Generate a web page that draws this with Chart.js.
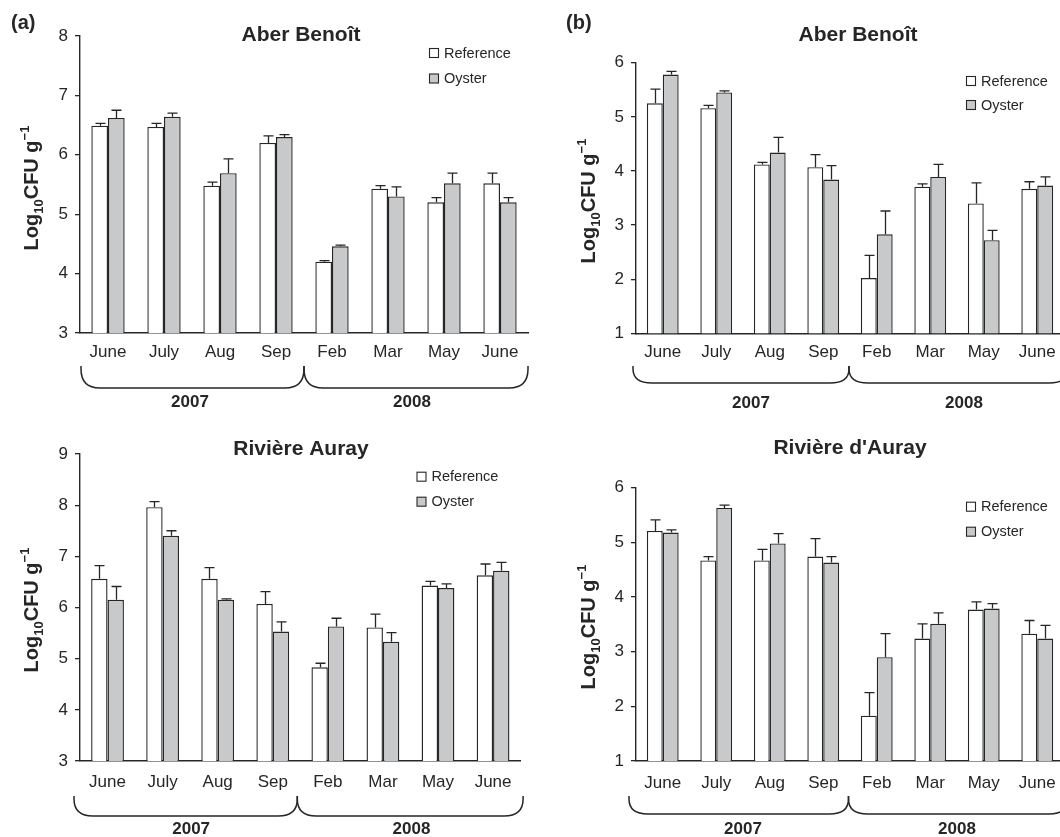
<!DOCTYPE html>
<html><head><meta charset="utf-8">
<script src="https://cdn.jsdelivr.net/npm/chart.js@4.4.0/dist/chart.umd.min.js"></script>
<style>
html,body{margin:0;padding:0;background:#fff;overflow:hidden;}
#wrap{position:relative;width:1060px;height:837px;overflow:hidden;background:#fff;}
#wrap canvas{position:absolute;left:0;top:0;}
</style></head><body>
<div id="wrap">
<canvas id="c1" width="1080" height="837"></canvas>
<canvas id="c2" width="1080" height="837"></canvas>
<canvas id="c3" width="1080" height="837"></canvas>
<canvas id="c4" width="1080" height="837"></canvas>
</div>
<script>
// ---------- data ----------
const months = ['June', 'July', 'Aug', 'Sep', 'Feb', 'Mar', 'May', 'June'];
const years = ['2007', '2008'];
const seriesNames = ['Reference', 'Oyster'];

// (a) Aber Benoît
const aAberRef    = [6.49, 6.47, 5.48, 6.20, 4.20, 5.43, 5.20, 5.52];
const aAberRefErr = [0.04, 0.06, 0.06, 0.12, 0.02, 0.05, 0.08, 0.17];
const aAberOys    = [6.62, 6.64, 5.69, 6.30, 4.46, 5.30, 5.52, 5.20];
const aAberOysErr = [0.13, 0.06, 0.24, 0.04, 0.02, 0.16, 0.17, 0.08];

// (b) Aber Benoît
const bAberRef    = [5.25, 5.16, 4.12, 4.07, 2.02, 3.71, 3.40, 3.67];
const bAberRefErr = [0.26, 0.05, 0.04, 0.23, 0.42, 0.05, 0.38, 0.13];
const bAberOys    = [5.78, 5.45, 4.34, 3.84, 2.83, 3.89, 2.72, 3.73];
const bAberOysErr = [0.06, 0.03, 0.28, 0.26, 0.43, 0.23, 0.18, 0.16];

// (a) Rivière Auray
const aAurRef    = [6.56, 7.96, 6.56, 6.07, 4.83, 5.61, 6.43, 6.63];
const aAurRefErr = [0.26, 0.11, 0.22, 0.24, 0.08, 0.26, 0.08, 0.22];
const aAurOys    = [6.15, 7.40, 6.15, 5.53, 5.63, 5.33, 6.38, 6.72];
const aAurOysErr = [0.26, 0.10, 0.02, 0.19, 0.16, 0.18, 0.08, 0.16];

// (b) Rivière d'Auray
const bAurRef    = [5.21, 4.67, 4.67, 4.74, 1.83, 3.24, 3.77, 3.33];
const bAurRefErr = [0.20, 0.07, 0.20, 0.33, 0.42, 0.27, 0.14, 0.24];
const bAurOys    = [5.18, 5.63, 4.98, 4.63, 2.90, 3.51, 3.79, 3.24];
const bAurOysErr = [0.05, 0.05, 0.18, 0.11, 0.43, 0.20, 0.09, 0.24];

// ---------- layout (positions / styles) ----------
const FONT = '"Liberation Sans", Arial, Helvetica, sans-serif';
const INK = '#262626';
const GREY = '#c8c9cb';
const CW = 1080, CH = 837, YW = 50, XH = 30;

const panels = [
  { id: 'c1', ref: aAberRef, refErr: aAberRefErr, oys: aAberOys, oysErr: aAberOysErr,
    yMin: 3, yMax: 8, area: { l: 80, r: 528, t: 36, b: 333 }, tickPad: 9,
    title: 'Aber Beno\u00eet', titleX: 301, titleY: 35,
    legendX: 429, legendY: [53, 78.5],
    yTitleX: 31, yTitleY: 188, panelLabel: '(a)', panelLabelX: 11,
    brace: { top: 366, bot: 388, startDx: 1, endDx: 0, cuspDx: 0 }, yearY: 402, yearDx: [-2, -4] },
  { id: 'c2', ref: bAberRef, refErr: bAberRefErr, oys: bAberOys, oysErr: bAberOysErr,
    yMin: 1, yMax: 6, area: { l: 636, r: 1064, t: 62.7, b: 333.3 }, tickPad: 9,
    title: 'Aber Beno\u00eet', titleX: 858, titleY: 35,
    legendX: 966, legendY: [81, 105],
    yTitleX: 588, yTitleY: 201, panelLabel: '(b)', panelLabelX: 566,
    brace: { top: 366, bot: 383, startDx: -3, endDx: 4, cuspDx: -1 }, yearY: 403, yearDx: [8, 7] },
  { id: 'c3', ref: aAurRef, refErr: aAurRefErr, oys: aAurOys, oysErr: aAurOysErr,
    yMin: 3, yMax: 9, area: { l: 80, r: 520.6, t: 454, b: 761 }, tickPad: 11,
    title: 'Rivi\u00e8re Auray', titleX: 301, titleY: 449,
    legendX: 416.5, legendY: [476.7, 501.7],
    yTitleX: 31, yTitleY: 610, panelLabel: null,
    brace: { top: 796, bot: 816, startDx: -6, endDx: 2.5, cuspDx: -3 }, yearY: 829, yearDx: [1, 1] },
  { id: 'c4', ref: bAurRef, refErr: bAurRefErr, oys: bAurOys, oysErr: bAurOysErr,
    yMin: 1, yMax: 6, area: { l: 636, r: 1064, t: 487.7, b: 761 }, tickPad: 12,
    title: 'Rivi\u00e8re d\'Auray', titleX: 850, titleY: 448,
    legendX: 966, legendY: [506.7, 531.7],
    yTitleX: 588, yTitleY: 627, panelLabel: null,
    brace: { top: 796, bot: 814, startDx: -7, endDx: 4, cuspDx: -1.5 }, yearY: 829, yearDx: [0, 0] }
];

function drawYTitle(ctx, cx, cy) {
  ctx.save();
  ctx.translate(cx, cy);
  ctx.rotate(-Math.PI / 2);
  const parts = [
    { t: 'Log', f: 20, dy: 0 },
    { t: '10', f: 13, dy: 5 },
    { t: 'CFU g', f: 20, dy: 0 },
    { t: '\u22121', f: 13, dy: -9 }
  ];
  let total = 0;
  parts.forEach(p => { ctx.font = 'bold ' + p.f + 'px ' + FONT; p.w = ctx.measureText(p.t).width; total += p.w; });
  let x = -total / 2;
  ctx.fillStyle = INK;
  ctx.textBaseline = 'alphabetic';
  ctx.textAlign = 'left';
  parts.forEach(p => { ctx.font = 'bold ' + p.f + 'px ' + FONT; ctx.fillText(p.t, x, 7 + p.dy); x += p.w; });
  ctx.restore();
}

const decoPlugin = {
  id: 'deco',
  afterDatasetsDraw(chart, args, o) {
    const ctx = chart.ctx;
    const ys = chart.scales.y;
    ctx.save();
    ctx.strokeStyle = INK;
    ctx.lineWidth = 1.3;
    chart.data.datasets.forEach((ds, di) => {
      const meta = chart.getDatasetMeta(di);
      meta.data.forEach((el, i) => {
        const yTop = ys.getPixelForValue(ds.data[i] + ds.errUp[i]);
        const x = Math.round(el.x) + 0.5;
        ctx.beginPath();
        ctx.moveTo(x, el.y);
        ctx.lineTo(x, yTop);
        ctx.moveTo(x - 5, yTop);
        ctx.lineTo(x + 5, yTop);
        ctx.stroke();
      });
    });
    ctx.restore();
  },
  afterDraw(chart, args, o) {
    const p = o.panel;
    const ctx = chart.ctx;
    const xs = chart.scales.x;
    ctx.save();
    // title
    ctx.fillStyle = INK;
    ctx.font = 'bold 21px ' + FONT;
    ctx.textAlign = 'center';
    ctx.textBaseline = 'middle';
    ctx.fillText(p.title, p.titleX, p.titleY);
    // panel label
    if (p.panelLabel) {
      ctx.font = 'bold 20px ' + FONT;
      ctx.textAlign = 'left';
      ctx.fillText(p.panelLabel, p.panelLabelX, 23);
    }
    // legend
    ctx.font = '14.5px ' + FONT;
    ctx.textAlign = 'left';
    ctx.textBaseline = 'middle';
    chart.data.datasets.forEach((ds, i) => {
      const y = p.legendY[i];
      ctx.fillStyle = ds.backgroundColor;
      ctx.fillRect(p.legendX + 0.5, y - 4.5, 9, 9);
      ctx.strokeStyle = INK;
      ctx.lineWidth = 1.1;
      ctx.strokeRect(p.legendX + 0.5, y - 4.5, 9, 9);
      ctx.fillStyle = INK;
      ctx.fillText(ds.label, p.legendX + 15, y + 0.5);
    });
    // y title
    drawYTitle(ctx, p.yTitleX, p.yTitleY);
    // braces
    const b = p.brace;
    const x0 = xs.left + b.startDx;
    const cusp = (xs.getPixelForValue(3) + xs.getPixelForValue(4)) / 2 + b.cuspDx;
    const x1 = xs.right + b.endDx;
    ctx.strokeStyle = INK;
    ctx.lineWidth = 1.5;
    const seg = (a, c) => {
      const r = 19;
      ctx.beginPath();
      ctx.moveTo(a, b.top);
      ctx.lineTo(a, b.top + 3);
      ctx.quadraticCurveTo(a, b.bot, a + r, b.bot);
      ctx.lineTo(c - r, b.bot);
      ctx.quadraticCurveTo(c, b.bot, c, b.top + 3);
      ctx.lineTo(c, b.top);
      ctx.stroke();
    };
    seg(x0, cusp);
    seg(cusp, x1);
    // year labels
    ctx.fillStyle = INK;
    ctx.font = 'bold 17px ' + FONT;
    ctx.textAlign = 'center';
    ctx.textBaseline = 'middle';
    const yc = [xs.getPixelForValue(1.5), xs.getPixelForValue(5.5)];
    years.forEach((yr, i) => ctx.fillText(yr, yc[i] + p.yearDx[i], p.yearY));
    ctx.restore();
  }
};

panels.forEach(p => {
  const a = p.area;
  new Chart(document.getElementById(p.id), {
    type: 'bar',
    plugins: [decoPlugin],
    data: {
      labels: months,
      datasets: [
        { label: seriesNames[0], data: p.ref, errUp: p.refErr, backgroundColor: '#ffffff',
          borderColor: INK, borderWidth: 1.4 },
        { label: seriesNames[1], data: p.oys, errUp: p.oysErr, backgroundColor: GREY,
          borderColor: INK, borderWidth: 1.4 }
      ]
    },
    options: {
      responsive: false,
      devicePixelRatio: 1,
      animation: false,
      categoryPercentage: 0.595,
      barPercentage: 1,
      layout: { padding: { left: a.l - YW, right: CW - a.r, top: a.t, bottom: CH - a.b - XH } },
      plugins: {
        legend: { display: false },
        title: { display: false },
        tooltip: { enabled: false },
        deco: { panel: p }
      },
      scales: {
        x: {
          grid: { display: false, drawTicks: false },
          border: { display: true, color: INK, width: 1.4 },
          ticks: { color: INK, font: { family: FONT, size: 17 }, padding: p.tickPad, maxRotation: 0, autoSkip: false },
          afterFit(s) { s.height = XH; }
        },
        y: {
          min: p.yMin, max: p.yMax,
          grid: { drawOnChartArea: false, drawTicks: true, tickLength: 5, color: INK, lineWidth: 1.3 },
          border: { display: true, color: INK, width: 1.4 },
          ticks: { stepSize: 1, color: INK, font: { family: FONT, size: 17 }, padding: 7 },
          afterFit(s) { s.width = YW; }
        }
      }
    }
  });
});
</script>
</body></html>
